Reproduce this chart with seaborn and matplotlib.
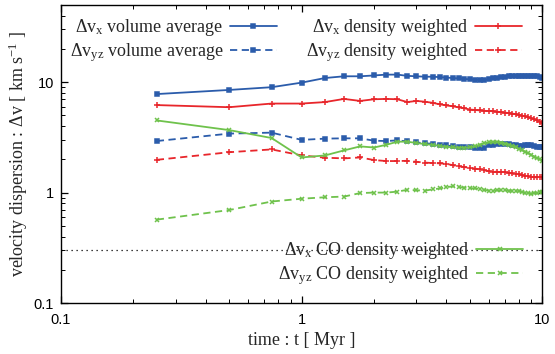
import numpy as np
import pandas as pd
import matplotlib
matplotlib.use("Agg")
import matplotlib.pyplot as plt
import seaborn as sns
from matplotlib.ticker import LogLocator, FixedLocator, FixedFormatter, NullFormatter

# Simulation output times [Myr]
time_myr = [0.25, 0.5, 0.75, 1.0, 1.25, 1.5, 1.75, 2.0, 2.25, 2.5,
            2.75, 3.0, 3.25, 3.5, 3.75, 4.0, 4.25, 4.5, 4.75, 5.0,
            5.25, 5.5, 5.75, 6.0, 6.25, 6.5, 6.75, 7.0, 7.25, 7.5,
            7.75, 8.0, 8.25, 8.5, 8.75, 9.0, 9.25, 9.5, 9.75, 10.0]

# Velocity dispersions [km/s]
dvx_volume = [7.8, 8.5, 9.0, 9.9, 10.9, 11.3, 11.3, 11.5, 11.7, 11.7,
              11.4, 11.3, 11.2, 11.2, 11.1, 11.0, 10.9, 10.8, 10.7, 10.6,
              10.5, 10.5, 10.5, 10.6, 10.8, 11.0, 11.1, 11.2, 11.3, 11.3,
              11.3, 11.4, 11.4, 11.4, 11.4, 11.4, 11.4, 11.3, 11.1, 10.9]
dvyz_volume = [2.93, 3.42, 3.49, 3.0, 3.08, 3.1, 3.1, 2.95, 2.93, 2.97,
               2.91, 2.85, 2.79, 2.77, 2.72, 2.67, 2.63, 2.6, 2.59, 2.58,
               2.56, 2.55, 2.55, 2.69, 2.72, 2.75, 2.77, 2.77, 2.74, 2.7,
               2.67, 2.66, 2.66, 2.67, 2.68, 2.67, 2.64, 2.61, 2.59, 2.58]
dvx_density = [6.2, 5.93, 6.4, 6.4, 6.6, 7.05, 6.76, 7.0, 7.05, 7.0,
               6.6, 6.76, 6.65, 6.5, 6.3, 6.15, 6.05, 5.9, 5.8, 5.65,
               5.6, 5.55, 5.5, 5.48, 5.45, 5.4, 5.35, 5.3, 5.25, 5.2,
               5.12, 5.05, 4.98, 4.9, 4.8, 4.7, 4.6, 4.5, 4.4, 4.3]
dvyz_density = [1.98, 2.32, 2.46, 2.17, 2.07, 2.04, 2.08, 1.97, 1.93, 1.93,
                1.94, 1.9, 1.87, 1.85, 1.84, 1.82, 1.77, 1.73, 1.7, 1.68,
                1.65, 1.62, 1.59, 1.56, 1.55, 1.54, 1.53, 1.53, 1.51, 1.49,
                1.47, 1.46, 1.44, 1.42, 1.41, 1.39, 1.38, 1.37, 1.37, 1.37]
dvx_co = [4.5, 3.68, 3.12, 2.08, 2.17, 2.41, 2.62, 2.56, 2.71, 2.89,
          2.89, 2.81, 2.75, 2.7, 2.65, 2.6, 2.57, 2.55, 2.55, 2.57,
          2.62, 2.72, 2.8, 2.86, 2.88, 2.88, 2.84, 2.78, 2.72, 2.65,
          2.57, 2.48, 2.42, 2.35, 2.27, 2.2, 2.12, 2.05, 2.0, 1.95]
dvyz_co = [0.569, 0.695, 0.83, 0.88, 0.907, 0.92, 0.99, 1.0, 1.0, 1.02,
           1.06, 1.05, 1.04, 1.07, 1.09, 1.12, 1.14, 1.12, 1.11, 1.10,
           1.09, 1.08, 1.06, 1.04, 1.04, 1.05, 1.05, 1.05, 1.04, 1.04,
           1.03, 1.03, 1.01, 1.0, 0.99, 0.98, 0.99, 1.0, 1.01, 1.02]

reference_level = 0.3

sns.set_style("ticks")
plt.rcParams["font.family"] = ["Liberation Serif", "DejaVu Serif"]
plt.rcParams["mathtext.fontset"] = "custom"
plt.rcParams["mathtext.rm"] = "Liberation Serif"
plt.rcParams["mathtext.it"] = "Liberation Serif:italic"

BLUE = "#2b5cab"
RED = "#e8262b"
GREEN = "#6fc24c"
DASH = (4, 2.5)
TEXT_SIZE = 13

fig = plt.figure(figsize=(5.55, 3.54), dpi=100)
ax = fig.add_axes([0.110, 0.144, 0.867, 0.842])

series = [
    (dvx_volume, r"$\Delta$v$_{\mathregular{x}}$ volume average", BLUE, "-", "s", 3.2),
    (dvyz_volume, r"$\Delta$v$_{\mathregular{yz}}$ volume average", BLUE, "--", "s", 3.2),
    (dvx_density, r"$\Delta$v$_{\mathregular{x}}$ density weighted", RED, "-", "+", 5),
    (dvyz_density, r"$\Delta$v$_{\mathregular{yz}}$ density weighted", RED, "--", "+", 5),
    (dvx_co, r"$\Delta$v$_{\mathregular{x}}$ CO density weighted", GREEN, "-", "x", 3.5),
    (dvyz_co, r"$\Delta$v$_{\mathregular{yz}}$ CO density weighted", GREEN, "--", "x", 3.5),
]

ax.axhline(reference_level, color="black", lw=0.9, ls=(0, (1, 3)), zorder=1)

handles = []
for vals, label, color, ls, mk, ms in series:
    df = pd.DataFrame({"t": time_myr, "dv": vals})
    sns.lineplot(data=df, x="t", y="dv", ax=ax, color=color, marker=mk,
                 markersize=ms, markeredgewidth=1.1, markeredgecolor=color,
                 lw=1.3, legend=False, label=label)
    line = ax.get_lines()[-1]
    if ls == "--":
        line.set_dashes(DASH)
    handles.append(line)

ax.set_xscale("log")
ax.set_yscale("log")
ax.set_xlim(0.1, 10)
ax.set_ylim(0.1, 50)

ax.xaxis.set_major_locator(FixedLocator([0.1, 1, 10]))
ax.xaxis.set_major_formatter(FixedFormatter(["0.1", "1", "10"]))
ax.yaxis.set_major_locator(FixedLocator([0.1, 1, 10]))
ax.yaxis.set_major_formatter(FixedFormatter(["0.1", "1", "10"]))
for axis in (ax.xaxis, ax.yaxis):
    axis.set_minor_locator(LogLocator(base=10, subs=np.arange(2, 10)))
    axis.set_minor_formatter(NullFormatter())

ax.tick_params(which="both", direction="in", top=True, right=True,
               colors="black", labelsize=10.5)
ax.tick_params(which="major", length=5, width=0.9, pad=5)
ax.tick_params(axis="x", which="major", pad=7)
ax.tick_params(which="minor", length=3, width=0.7)
for lab in ax.get_xticklabels() + ax.get_yticklabels():
    lab.set_fontfamily(["Liberation Sans", "DejaVu Sans"])
for sp in ax.spines.values():
    sp.set_color("black")
    sp.set_linewidth(1.0)

ax.set_xlabel("time : t [ Myr ]", fontsize=TEXT_SIZE, labelpad=4)
ax.set_ylabel(r"velocity dispersion : $\Delta$v [ km s$^{\mathregular{-1}}$ ]",
              fontsize=TEXT_SIZE, labelpad=3)

leg_kw = dict(frameon=False, markerfirst=False, fontsize=TEXT_SIZE, handlelength=2.6,
              handletextpad=0.35, labelspacing=0.2, borderpad=0, borderaxespad=0,
              loc="upper right")
leg1 = ax.legend(handles=handles[0:2], bbox_to_anchor=(0.448, 0.96), **leg_kw)
ax.add_artist(leg1)
leg2 = ax.legend(handles=handles[2:4], bbox_to_anchor=(0.957, 0.96), **leg_kw)
ax.add_artist(leg2)
ax.legend(handles=handles[4:6], bbox_to_anchor=(0.96, 0.212), **leg_kw)

fig.savefig("out.png", dpi=100)
